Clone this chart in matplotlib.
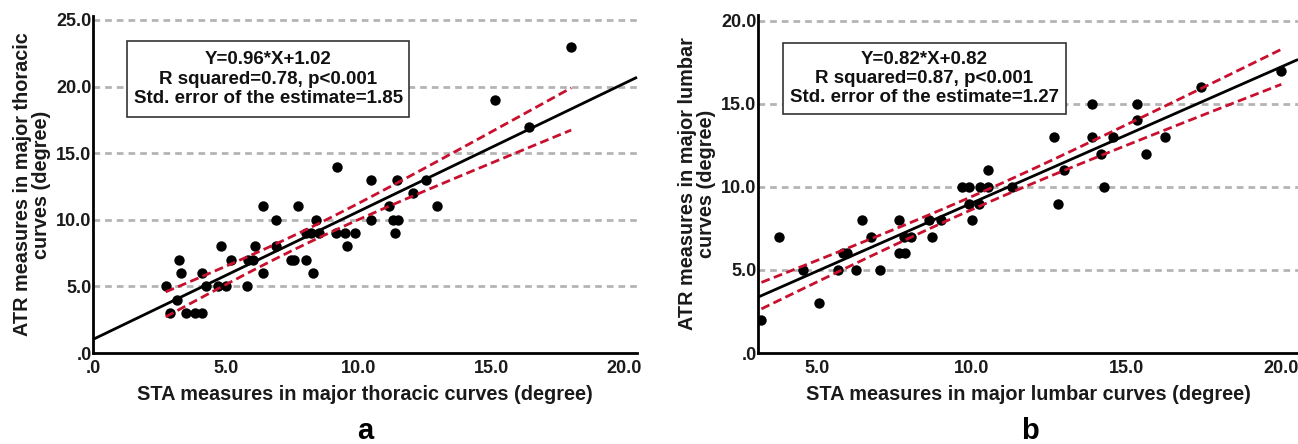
import numpy as np
import matplotlib
matplotlib.use("Agg")
import matplotlib.pyplot as plt
from matplotlib.ticker import FuncFormatter, FixedLocator
from matplotlib.patches import Rectangle

plt.rcParams['font.family'] = ['Liberation Sans', 'DejaVu Sans']
plt.rcParams['font.weight'] = 'bold'

# ---------------- data: panel a (thoracic) ----------------
thor_sta = [2.74, 2.92, 3.15, 3.23, 3.33, 3.52, 3.83, 4.12, 4.12, 4.24,
            4.71, 4.84, 5.03, 5.21, 5.82, 5.84, 6.03, 6.12, 6.40, 6.40,
            6.91, 6.91, 7.47, 7.59, 7.72, 8.01, 8.28, 8.01, 8.22, 8.41,
            8.53, 9.16, 9.20, 9.50, 9.58, 9.86, 10.48, 10.48, 11.17, 11.29,
            11.45, 11.48, 11.38, 12.06, 12.56, 12.96, 15.14, 16.43, 18.02]
thor_atr = [5, 3, 4, 7, 6, 3, 3, 3, 6, 5,
            5, 8, 5, 7, 5, 7, 7, 8, 6, 11,
            10, 8, 7, 7, 11, 7, 6, 9, 9, 10,
            9, 9, 14, 9, 8, 9, 13, 10, 11, 10,
            13, 10, 9, 12, 13, 11, 19, 17, 23]
thor_slope, thor_intercept, thor_see = 0.96, 1.02, 1.85
thor_text = "Y=0.96*X+1.02\nR squared=0.78, p<0.001\nStd. error of the estimate=1.85"

# ---------------- data: panel b (lumbar) ----------------
lumb_sta = [3.21, 3.79, 4.57, 5.08, 5.67, 5.86, 5.99, 6.27, 6.47, 6.75,
            7.05, 7.65, 7.65, 7.85, 7.83, 8.06, 8.63, 8.73, 9.01, 9.70,
            9.92, 9.93, 10.01, 10.24, 10.28, 10.52, 10.52, 11.31, 12.78, 12.68,
            12.99, 13.89, 13.89, 14.18, 14.27, 14.57, 15.34, 15.34, 15.64, 16.24,
            17.41, 20.01]
lumb_atr = [2, 7, 5, 3, 5, 6, 6, 5, 8, 7,
            5, 8, 6, 6, 7, 7, 8, 7, 8, 10,
            10, 9, 8, 9, 10, 10, 11, 10, 9, 13,
            11, 15, 13, 12, 10, 13, 15, 14, 12, 13,
            16, 17]
lumb_slope, lumb_intercept, lumb_see = 0.82, 0.82, 1.27
lumb_text = "Y=0.82*X+0.82\nR squared=0.87, p<0.001\nStd. error of the estimate=1.27"

t_crit = 2.01  # approx. two-sided 95% t quantile

x_ticks_a = [0, 5, 10, 15, 20]
y_ticks_a = [0, 5, 10, 15, 20, 25]
x_ticks_b = [5, 10, 15, 20]
y_ticks_b = [0, 5, 10, 15, 20]

W, H = 1298, 444
fig = plt.figure(figsize=(W / 100, H / 100), dpi=100)

RED = '#c8102e'
GRID = '#b4b4b4'
INK = '#1a1a1a'


def fmt(v, pos=None):
    return '.0' if abs(v) < 1e-9 else f'{v:.1f}'


def panel(rect, xs, ys, slope, intercept, see, xlim, ylim, xt, yt,
          xlabel, ylabel, boxrect, text, letter, letter_x):
    ax = fig.add_axes(rect)
    xs = np.asarray(xs, float)
    ys = np.asarray(ys, float)
    ax.set_xlim(*xlim)
    ax.set_ylim(*ylim)
    for yv in yt[1:]:
        ax.axhline(yv, color=GRID, lw=2.0, ls=(0, (2.4, 1.8)), zorder=1)
    ax.scatter(xs, ys, s=56, color='black', zorder=3, linewidths=0)
    # regression line across the axis
    xl = np.linspace(xlim[0], xlim[1], 50)
    ax.plot(xl, slope * xl + intercept, color='black', lw=2.0, zorder=4,
            clip_on=False, solid_capstyle='butt')
    # 95% CI of the mean over the data range
    n = len(xs)
    xbar = xs.mean()
    sxx = ((xs - xbar) ** 2).sum()
    xc = np.linspace(xs.min(), xs.max(), 100)
    half = t_crit * see * np.sqrt(1 / n + (xc - xbar) ** 2 / sxx)
    yc = slope * xc + intercept
    for sgn in (1, -1):
        ax.plot(xc, yc + sgn * half, color=RED, lw=2.0, ls=(0, (3.2, 1.6)), zorder=4)

    for s in ['top', 'right']:
        ax.spines[s].set_visible(False)
    for s in ['left', 'bottom']:
        ax.spines[s].set_linewidth(2.0)
        ax.spines[s].set_color('black')
    ax.xaxis.set_major_locator(FixedLocator(xt))
    ax.yaxis.set_major_locator(FixedLocator(yt))
    ax.xaxis.set_major_formatter(FuncFormatter(fmt))
    ax.yaxis.set_major_formatter(FuncFormatter(fmt))
    ax.tick_params(axis='both', length=0, labelsize=13, colors=INK)
    ax.tick_params(axis='x', pad=5)
    ax.tick_params(axis='y', pad=1)
    for lab in ax.get_xticklabels() + ax.get_yticklabels():
        lab.set_fontweight('bold')
    ax.set_xlabel(xlabel, fontsize=14.3, fontweight='bold', labelpad=6, color=INK)
    ax.set_ylabel(ylabel, fontsize=14.3, fontweight='bold', labelpad=4,
                  color=INK, linespacing=1.0)
    ax.set_facecolor('none')

    bx0, by0, bx1, by1 = boxrect
    ax.add_patch(Rectangle((bx0, by0), bx1 - bx0, by1 - by0, transform=ax.transAxes,
                           facecolor='white', edgecolor='#333333', lw=1.2, zorder=5))
    ax.text((bx0 + bx1) / 2, (by0 + by1) / 2, text, transform=ax.transAxes,
            ha='center', va='center', fontsize=13.5, fontweight='bold',
            linespacing=1.17, zorder=6, color='#111111')
    fig.text(letter_x, 1 - 431 / H, letter, ha='center', va='center',
             fontsize=21, fontweight='bold')
    return ax


panel([93 / W, 1 - 353 / H, 544 / W, 337 / H], thor_sta, thor_atr,
      thor_slope, thor_intercept, thor_see, (0, 20.5), (0, 25.3),
      x_ticks_a, y_ticks_a,
      "STA measures in major thoracic curves (degree)",
      "ATR measures in major thoracic\ncurves (degree)",
      (0.063, 0.699, 0.581, 0.927), thor_text, 'a', 365 / W)

panel([758 / W, 1 - 353 / H, 540 / W, 338 / H], lumb_sta, lumb_atr,
      lumb_slope, lumb_intercept, lumb_see, (3.1, 20.55), (0, 20.35),
      x_ticks_b, y_ticks_b,
      "STA measures in major lumbar curves (degree)",
      "ATR measures in major lumbar\ncurves (degree)",
      (0.0457, 0.707, 0.570, 0.918), lumb_text, 'b', 1030 / W)

fig.savefig('out.png', dpi=100)
